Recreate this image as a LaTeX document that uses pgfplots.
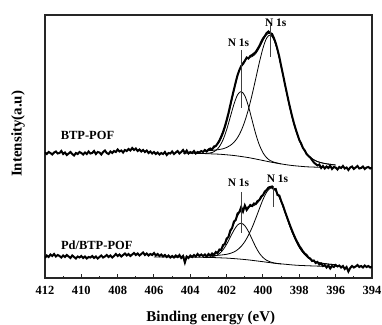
\documentclass[border=0pt]{standalone}
\usepackage{pgfplots}
\pgfplotsset{compat=1.18}
\usepackage{pgfplotstable}
\usepackage{fontspec}
\setmainfont{Liberation Serif}

\pgfplotstableread{
x y
412.0 125.5
411.9 124.0
411.8 126.0
411.7 125.0
411.6 123.5
411.5 125.5
411.4 126.5
411.3 124.5
411.2 125.0
411.1 127.0
411.0 124.0
410.9 125.5
410.8 123.0
410.7 124.5
410.6 126.0
410.5 124.0
410.4 122.5
410.3 125.0
410.2 124.0
410.1 126.0
410.0 125.0
409.9 123.5
409.8 125.5
409.7 124.0
409.6 126.5
409.5 124.5
409.4 125.0
409.3 127.0
409.2 124.0
409.1 126.0
409.0 125.5
408.9 123.5
408.8 126.0
408.7 127.5
408.6 125.0
408.5 124.0
408.4 126.5
408.3 125.0
408.2 127.0
408.1 126.0
408.0 128.5
407.9 126.5
407.8 127.5
407.7 125.5
407.6 128.0
407.5 127.0
407.4 129.0
407.3 127.5
407.2 130.0
407.1 128.0
407.0 129.5
406.9 127.0
406.8 128.5
406.7 126.5
406.6 128.0
406.5 126.0
406.4 127.5
406.3 125.0
406.2 126.5
406.1 124.5
406.0 126.0
405.9 124.0
405.8 125.5
405.7 123.5
405.6 125.0
405.5 124.0
405.4 126.0
405.3 123.0
405.2 125.0
405.1 124.5
405.0 126.5
404.9 124.0
404.8 125.5
404.7 127.0
404.6 124.5
404.5 126.0
404.4 128.0
404.3 125.0
404.2 127.5
404.1 124.5
404.0 126.0
403.9 125.0
403.8 127.0
403.7 124.5
403.6 126.0
403.5 125.5
403.4 127.0
403.3 126.0
403.2 128.0
403.1 126.5
403.0 128.5
402.9 129.5
402.8 128.5
402.7 131.5
402.6 132.0
402.5 134.5
402.4 137.5
402.3 141.5
402.2 146.0
402.1 151.5
402.0 158.0
401.9 165.0
401.8 173.0
401.7 181.0
401.6 188.5
401.5 196.0
401.4 203.0
401.3 208.0
401.2 212.0
401.1 214.0
401.0 217.0
400.9 220.5
400.8 219.5
400.7 222.0
400.6 223.0
400.5 224.5
400.4 226.0
400.3 229.0
400.2 232.0
400.1 236.0
400.0 239.5
399.9 242.0
399.8 245.0
399.7 246.5
399.6 245.0
399.5 244.0
399.4 240.0
399.3 235.0
399.2 228.5
399.1 221.0
399.0 212.0
398.9 203.5
398.8 194.5
398.7 186.0
398.6 177.5
398.5 169.5
398.4 162.0
398.3 155.0
398.2 149.0
398.1 143.5
398.0 138.0
397.9 134.5
397.8 130.0
397.7 127.5
397.6 124.0
397.5 122.0
397.4 120.5
397.3 118.0
397.2 115.5
397.1 114.0
397.0 112.5
396.9 113.5
396.8 110.0
396.7 112.0
396.6 109.5
396.5 111.5
396.4 110.0
396.3 112.5
396.2 109.0
396.1 111.0
396.0 110.5
395.9 108.5
395.8 111.0
395.7 110.0
395.6 112.0
395.5 109.5
395.4 110.5
395.3 108.0
395.2 110.5
395.1 111.5
395.0 109.0
394.9 110.5
394.8 112.0
394.7 109.5
394.6 110.0
394.5 111.5
394.4 109.0
394.3 110.5
394.2 111.0
394.1 109.5
394.0 110.5
}\topdata

\pgfplotstableread{
x y
412.0 20.0
411.9 22.5
411.8 21.0
411.7 23.5
411.6 22.0
411.5 24.0
411.4 21.5
411.3 23.0
411.2 22.0
411.1 20.5
411.0 22.5
410.9 21.0
410.8 23.0
410.7 21.5
410.6 20.0
410.5 22.5
410.4 21.0
410.3 19.5
410.2 21.5
410.1 20.5
410.0 22.0
409.9 20.0
409.8 21.5
409.7 19.5
409.6 21.0
409.5 20.5
409.4 22.0
409.3 20.0
409.2 21.5
409.1 19.5
409.0 21.0
408.9 22.5
408.8 20.5
408.7 21.5
408.6 23.0
408.5 21.0
408.4 22.5
408.3 20.5
408.2 22.0
408.1 24.0
408.0 22.0
407.9 23.5
407.8 21.5
407.7 23.0
407.6 24.5
407.5 22.5
407.4 24.0
407.3 22.0
407.2 23.5
407.1 25.0
407.0 23.0
406.9 24.5
406.8 22.5
406.7 24.0
406.6 25.5
406.5 23.0
406.4 24.5
406.3 22.5
406.2 24.0
406.1 23.0
406.0 25.0
405.9 22.5
405.8 24.0
405.7 22.0
405.6 23.5
405.5 21.5
405.4 23.0
405.3 21.0
405.2 22.5
405.1 20.5
405.0 22.0
404.9 20.5
404.8 22.5
404.7 21.0
404.6 23.0
404.5 20.0
404.4 22.0
404.3 15.5
404.2 21.5
404.1 20.0
404.0 22.5
403.9 21.0
403.8 23.0
403.7 21.5
403.6 24.0
403.5 22.0
403.4 23.5
403.3 22.0
403.2 23.5
403.1 21.5
403.0 24.0
402.9 22.5
402.8 24.5
402.7 23.0
402.6 26.0
402.5 25.0
402.4 28.5
402.3 28.0
402.2 33.0
402.1 34.0
402.0 39.5
401.9 41.0
401.8 47.5
401.7 50.0
401.6 56.5
401.5 58.0
401.4 64.5
401.3 66.0
401.2 71.0
401.1 66.5
401.0 72.5
400.9 68.0
400.8 70.5
400.7 73.0
400.6 72.0
400.5 74.5
400.4 74.0
400.3 77.0
400.2 78.0
400.1 81.5
400.0 83.0
399.9 86.5
399.8 88.0
399.7 90.5
399.6 91.0
399.5 91.5
399.4 88.5
399.3 89.0
399.2 83.0
399.1 82.5
399.0 77.0
398.9 72.5
398.8 67.0
398.7 62.0
398.6 57.0
398.5 52.0
398.4 47.5
398.3 43.0
398.2 39.0
398.1 35.5
398.0 32.0
397.9 29.5
397.8 26.5
397.7 24.5
397.6 23.0
397.5 20.5
397.4 19.5
397.3 17.0
397.2 17.5
397.1 15.0
397.0 16.0
396.9 13.5
396.8 14.5
396.7 12.0
396.6 13.0
396.5 10.5
396.4 12.5
396.3 9.5
396.2 12.0
396.1 11.0
396.0 13.0
395.9 11.5
395.8 12.5
395.7 10.5
395.6 12.0
395.5 9.0
395.4 11.0
395.3 6.5
395.2 10.0
395.1 12.0
395.0 10.5
394.9 11.5
394.8 13.0
394.7 11.0
394.6 12.0
394.5 10.5
394.4 12.5
394.3 11.0
394.2 12.0
394.1 10.5
394.0 11.5
}\botdata

% top fit: background, component 1, component 2, envelope
\pgfplotstableread{
x bg
404.4 124.8
404.0 124.7
403.6 124.6
403.2 124.4
402.8 124.1
402.4 123.8
402.0 123.2
401.6 122.5
401.2 121.5
400.8 120.4
400.4 119.0
400.0 117.5
399.6 116.0
399.2 114.7
398.8 113.5
398.4 112.5
398.0 111.8
397.6 111.2
397.2 110.9
396.8 110.6
396.4 110.4
396.0 110.3
}\topbg

\pgfplotstableread{
x c1
403.2 124.6
403.0 124.8
402.8 125.5
402.6 127.5
402.4 131.4
402.2 138.2
402.0 148.3
401.8 161.0
401.6 173.7
401.4 183.2
401.2 186.5
401.0 182.2
400.8 171.6
400.6 157.8
400.4 144.1
400.2 133.0
400.0 125.2
399.8 120.3
399.6 117.4
399.4 115.8
399.2 114.9
399.0 114.0
}\topcA

\pgfplotstableread{
x c2 env
403.2 127.1 127.3
403.0 127.4 127.9
402.8 127.6 129.0
402.6 128.0 131.5
402.4 128.5 136.1
402.2 129.2 143.9
402.0 130.5 155.6
401.8 132.6 170.7
401.6 135.7 186.9
401.4 140.4 201.6
401.2 147.3 212.3
401.0 156.8 218.0
400.8 168.8 220.0
400.6 183.3 221.4
400.4 199.3 224.4
400.2 215.6 230.3
400.0 229.9 237.6
399.8 239.9 243.4
399.6 243.0 244.4
399.4 238.4 238.9
399.2 227.1 227.3
399.0 211.3 211.3
398.8 193.8 193.8
398.6 176.6 176.6
398.4 160.9 160.9
398.2 147.9 147.9
398.0 137.6 137.6
397.8 129.9 129.9
397.6 124.4 124.4
397.4 120.7 120.7
397.2 118.2 118.2
397.0 116.4 116.4
396.8 115.3 115.3
396.6 114.5 114.5
396.4 113.9 113.9
396.2 113.4 113.4
396.0 113.0 113.0
}\topcB

% bottom fit
\pgfplotstableread{
x bg
406.0 21.0
405.0 20.9
404.2 20.9
403.6 20.8
403.2 20.6
402.8 20.5
402.4 20.2
402.0 19.9
401.6 19.4
401.2 18.8
400.8 18.1
400.4 17.2
400.0 16.3
399.6 15.3
399.2 14.4
398.8 13.8
398.4 13.1
398.0 12.6
397.6 12.3
397.2 12.0
396.8 11.8
396.4 11.7
396.0 11.7
}\botbg

\pgfplotstableread{
x c1
403.2 20.7
403.0 20.9
402.8 21.3
402.6 22.3
402.4 24.4
402.2 28.2
402.0 33.8
401.8 40.8
401.6 47.8
401.4 53.0
401.2 54.8
401.0 52.3
400.8 46.5
400.6 38.7
400.4 31.1
400.2 24.8
400.0 20.5
399.8 17.7
399.6 16.1
399.4 15.1
399.2 14.5
399.0 14.1
}\botcA

\pgfplotstableread{
x c2 env
403.2 22.1 22.2
403.0 22.3 22.6
402.8 22.4 23.2
402.6 22.5 24.5
402.4 22.8 27.0
402.2 23.2 31.3
402.0 23.7 37.6
401.8 24.6 45.7
401.6 26.0 54.4
401.4 28.3 62.2
401.2 31.7 67.7
401.0 36.4 70.3
400.8 42.8 71.2
400.6 50.5 71.6
400.4 59.6 73.5
400.2 69.2 77.3
400.0 78.5 82.7
399.8 85.8 87.7
399.6 89.7 90.5
399.4 89.2 89.5
399.2 84.4 84.5
399.0 76.3 76.3
398.8 66.3 66.3
398.6 55.8 55.8
398.4 46.0 46.0
398.2 37.7 37.7
398.0 30.6 30.6
397.8 25.4 25.4
397.6 21.5 21.5
397.4 18.8 18.8
397.2 16.9 16.9
397.0 15.7 15.7
396.8 14.9 14.9
396.6 14.4 14.4
396.4 13.9 13.9
396.2 13.6 13.6
396.0 13.4 13.4
}\botcB

\begin{document}
\begin{tikzpicture}
\useasboundingbox (-45bp,-47bp) rectangle (337bp,278bp);
\begin{axis}[
  at={(0,0)}, anchor=south west,
  scale only axis, width=327bp, height=263bp,
  x dir=reverse, xmin=394, xmax=412, ymin=0, ymax=263,
  xtick={394,396,...,412}, minor x tick num=1,
  xtick pos=bottom, ytick=\empty, tick align=inside,
  major tick length=4bp, minor tick length=2.5bp,
  axis line style={line width=1.2pt, black!85},
  every tick/.style={black!85, line width=1pt},
  /pgf/number format/assume math mode=true,
  ticklabel style={font=\fontsize{12.5}{12.5}\selectfont\bfseries},
  xticklabel style={yshift=-5bp},
  xlabel={Binding energy (eV)}, ylabel={Intensity(a.u)},
  label style={font=\fontsize{15}{15}\selectfont\bfseries},
  xlabel style={at={(axis description cs:0.507,-0.152)}, anchor=center},
  ylabel style={at={(axis description cs:-0.0826,0.548)}, anchor=center},
]
% top spectrum
\addplot[black, line width=2pt] table[x=x,y=y] {\topdata};
\addplot[black, line width=0.8pt, smooth] table[x=x,y=bg] {\topbg};
\addplot[black, line width=0.8pt, smooth] table[x=x,y=c1] {\topcA};
\addplot[black, line width=0.8pt, smooth] table[x=x,y=c2] {\topcB};
\addplot[black, line width=0.8pt, smooth] table[x=x,y=env] {\topcB};
% bottom spectrum
\addplot[black, line width=2pt] table[x=x,y=y] {\botdata};
\addplot[black, line width=0.8pt, smooth] table[x=x,y=bg] {\botbg};
\addplot[black, line width=0.8pt, smooth] table[x=x,y=c1] {\botcA};
\addplot[black, line width=0.8pt, smooth] table[x=x,y=c2] {\botcB};
\addplot[black, line width=0.8pt, smooth] table[x=x,y=env] {\botcB};
% peak markers
\addplot[black!75, line width=0.7pt] coordinates {(401.2,228) (401.2,170)};
\addplot[black!75, line width=0.7pt] coordinates {(399.6,253) (399.6,221)};
\addplot[black!75, line width=0.7pt] coordinates {(401.2,86) (401.2,45)};
\addplot[black!75, line width=0.7pt] coordinates {(399.45,92) (399.45,71)};
% labels
\node[font=\fontsize{12.5}{12.5}\selectfont\bfseries] at (axis cs:409.66,143) {BTP-POF};
\node[font=\fontsize{12.5}{12.5}\selectfont\bfseries] at (axis cs:409.15,33) {Pd/BTP-POF};
\node[font=\fontsize{11.5}{11.5}\selectfont\bfseries] at (axis cs:401.35,235) {N 1s};
\node[font=\fontsize{11.5}{11.5}\selectfont\bfseries] at (axis cs:399.3,255) {N 1s};
\node[font=\fontsize{11.5}{11.5}\selectfont\bfseries] at (axis cs:401.35,95) {N 1s};
\node[font=\fontsize{11.5}{11.5}\selectfont\bfseries] at (axis cs:399.2,99) {N 1s};
\end{axis}
\end{tikzpicture}
\end{document}
